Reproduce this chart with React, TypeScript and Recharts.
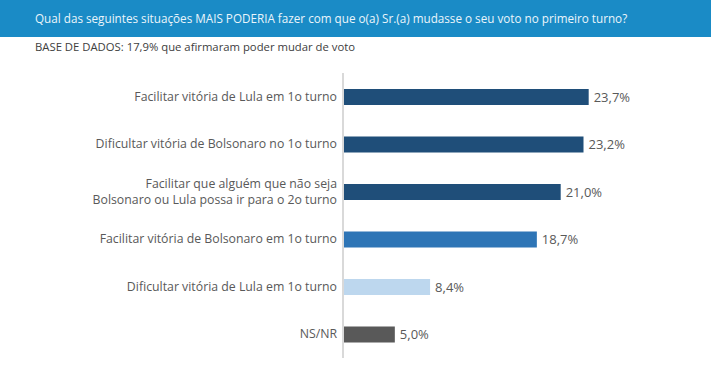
import React from "react";
import { BarChart, Bar, XAxis, YAxis, Cell, LabelList } from "recharts";

const categories = [
  "Facilitar vitória de Lula em 1o turno",
  "Dificultar vitória de Bolsonaro no 1o turno",
  "Facilitar que alguém que não seja\nBolsonaro ou Lula possa ir para o 2o turno",
  "Facilitar vitória de Bolsonaro em 1o turno",
  "Dificultar vitória de Lula em 1o turno",
  "NS/NR",
];
const values = [23.7, 23.2, 21.0, 18.7, 8.4, 5.0];
const colors = ["#1f4e79", "#1f4e79", "#1f4e79", "#2e75b6", "#bdd7ee", "#595959"];

const title = "Qual das seguintes situações MAIS PODERIA fazer com que o(a) Sr.(a) mudasse o seu voto no primeiro turno?";
const subtitle = "BASE DE DADOS: 17,9% que afirmaram poder mudar de voto";

const data = categories.map((c, i) => ({ name: c, value: values[i], color: colors[i] }));

const FONT = "'Open Sans', 'DejaVu Sans', sans-serif";

const Tick = (props: any) => {
  const { x, y, payload } = props;
  const lines = String(payload.value).split("\n");
  const lh = 16;
  const start = -((lines.length - 1) * lh) / 2;
  return (
    <text x={x} y={y} textAnchor="end" fill="#595959" fontSize={12.3} fontFamily={FONT}>
      {lines.map((l, i) => (
        <tspan key={i} x={x} dy={i === 0 ? start + 4 : lh}>
          {l}
        </tspan>
      ))}
    </text>
  );
};

export default function App() {
  return (
    <div style={{ position: "absolute", left: 0, top: 0, width: 711, height: 368, background: "#fff", fontFamily: FONT }}>
      <div style={{ position: "absolute", left: 0, top: 0, width: 711, height: 37, background: "#1a8bc6" }} />
      <div style={{ position: "absolute", left: 35, top: 10, fontSize: 11.7, color: "#eaf5fb", whiteSpace: "nowrap" }}>{title}</div>
      <div style={{ position: "absolute", left: 35, top: 39, fontSize: 11.3, color: "#404040", whiteSpace: "nowrap" }}>{subtitle}</div>
      <div style={{ position: "absolute", left: 0, top: 0 }}>
        <BarChart
          width={711}
          height={368}
          data={data}
          layout="vertical"
          margin={{ top: 73, right: 57, bottom: 10, left: 0 }}
        >
          <XAxis type="number" domain={[0, 30]} hide />
          <YAxis
            type="category"
            dataKey="name"
            width={343}
            axisLine={{ stroke: "#d9d9d9", strokeWidth: 2 }}
            tickLine={false}
            tick={<Tick />}
            tickMargin={0}
            interval={0}
          />
          <Bar dataKey="value" barSize={16} isAnimationActive={false}>
            {data.map((d, i) => (
              <Cell key={i} fill={d.color} />
            ))}
            <LabelList
              dataKey="value"
              position="right"
              offset={5}
              formatter={(v: any) => `${Number(v).toFixed(1).replace(".", ",")}%`}
              style={{ fill: "#595959", fontSize: 13, fontFamily: FONT }}
            />
          </Bar>
        </BarChart>
      </div>
    </div>
  );
}
